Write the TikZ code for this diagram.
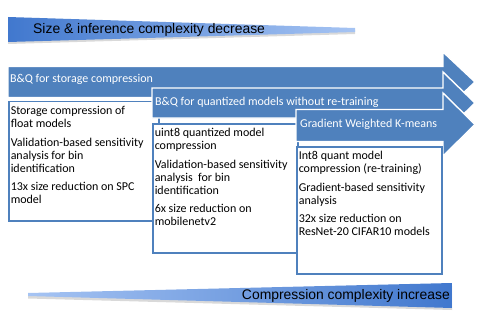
\documentclass[tikz,border=0pt]{standalone}
\usepackage{fontspec}
\setmainfont{Carlito}
\newfontfamily\wedgefont{Liberation Sans}
\usetikzlibrary{positioning}
\definecolor{officeblue}{HTML}{4F81BD}
\definecolor{wedgedark}{HTML}{4178CE}
\definecolor{wedgelight}{HTML}{A6C4F3}

\begin{document}
\begin{tikzpicture}[x=1pt, y=-1pt,
    bandArrow/.style={fill=officeblue, draw=white, line width=1.4pt, line join=miter},
    bandTitle/.style={text=white, font=\fontsize{12}{14}\selectfont, anchor=west, inner sep=0pt},
    featureCard/.style={draw=officeblue, fill=white, line width=1.5pt, anchor=north west, inner xsep=2pt, inner ysep=4.5pt, font=\fontsize{12}{13}\selectfont},
    wedgeLabel/.style={font=\wedgefont\fontsize{13.9}{16}\selectfont, inner sep=0pt}
]
    \useasboundingbox (0,0) rectangle (477,313);

    % size / inference wedge
    \fill[gray!30] (8,19.5) -- (355,30) -- (355,34) -- (8,44) -- cycle;
    \shade[left color=wedgedark, right color=wedgelight] (8,17) -- (355,28) -- (355,32) -- (8,42) -- cycle;
    \node[wedgeLabel, anchor=west] (sizeLabel) at (33,30) {Size \& inference complexity decrease};

    % B&Q storage
    \filldraw[bandArrow] (8,66.5) -- (443,66.5) -- (443,52) -- (475,82) -- (443,112) -- (443,97.5) -- (8,97.5) -- cycle;
    \node[bandTitle] (bqStorage) at (10,79) {B\&Q for storage compression};
    \node[featureCard] (storageCard) at (8,101) {\parbox[t][110pt][t]{146pt}{\raggedright
        Storage compression of\\ float models\\[5.5pt]
        Validation-based sensitivity\\ analysis for bin\\ identification\\[5.5pt]
        13x size reduction on SPC\\ model}};

    % B&Q quantized
    \filldraw[bandArrow] (152,88) -- (443,88) -- (443,72) -- (475,103) -- (443,134) -- (443,118) -- (152,118) -- cycle;
    \node[bandTitle] (bqQuant) at (155,102) {B\&Q for quantized models without re-training};
    \node[featureCard] (quantCard) at (152,123) {\parbox[t][120pt][t]{141pt}{\raggedright
        uint8 quantized model\\ compression\\[5.5pt]
        Validation-based sensitivity\\ analysis\ \ for bin\\ identification\\[5.5pt]
        6x size reduction on\\ mobilenetv2}};

    % gradient weighted k-means
    \filldraw[bandArrow] (296,109.5) -- (443,109.5) -- (443,93) -- (475,124.5) -- (443,156) -- (443,141.5) -- (296,141.5) -- cycle;
    \node[bandTitle] (gwKmeans) at (300,124) {Gradient Weighted K-means};
    \node[featureCard] (kmeansCard) at (296,146) {\parbox[t][118pt][t]{141pt}{\raggedright
        Int8 quant model\\ compression (re-training)\\[5.5pt]
        Gradient-based sensitivity\\ analysis\\[5.5pt]
        32x size reduction on\\ ResNet-20 CIFAR10 models}};

    % compression complexity wedge
    \fill[gray!30] (28,296) -- (452,286) -- (452,310) -- (28,298.5) -- cycle;
    \shade[left color=wedgelight, right color=wedgedark] (28,293) -- (452,283) -- (452,308) -- (28,296) -- cycle;
    \node[wedgeLabel, anchor=east] (compLabel) at (450,296) {Compression complexity increase};
\end{tikzpicture}
\end{document}
